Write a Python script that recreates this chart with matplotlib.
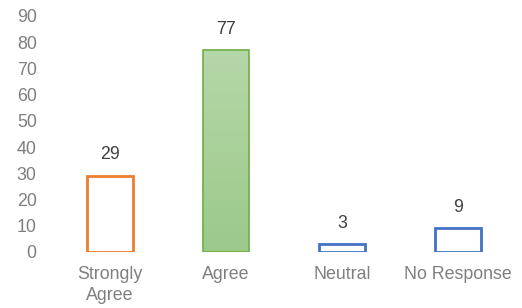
import numpy as np
import matplotlib
matplotlib.use("Agg")
import matplotlib.pyplot as plt
from matplotlib.colors import LinearSegmentedColormap

plt.rcParams['font.family'] = ['Liberation Sans', 'DejaVu Sans']

# Data
categories = ["Strongly\nAgree", "Agree", "Neutral", "No Response"]
values = [29, 77, 3, 9]
edge_colors = ["#ED7D31", "#70AD47", "#4472C4", "#4472C4"]

fig = plt.figure(figsize=(5.22, 3.08), dpi=100)
ax = fig.add_axes([52 / 522, 56 / 308, 464 / 522, 236 / 308])

x = np.arange(len(categories))
bars = ax.bar(x, values, width=0.39, facecolor="white",
              edgecolor=edge_colors, linewidth=2, zorder=2)

# gradient fill for the Agree bar
agree = bars[1]
agree.set_facecolor("none")
agree.set_linewidth(1.2)
cmap = LinearSegmentedColormap.from_list("g", ["#9BC98A", "#B6D7A8"])
grad = np.linspace(0, 1, 256).reshape(-1, 1)
bx, by = agree.get_x(), agree.get_y()
img = ax.imshow(grad, cmap=cmap, origin="lower", aspect="auto",
                extent=[bx, bx + agree.get_width(), by, by + agree.get_height()],
                zorder=1)
img.set_clip_path(agree)

for b, v in zip(bars, values):
    ax.text(b.get_x() + b.get_width() / 2, v + 4.8, str(v),
            ha="center", va="bottom", fontsize=12.8, color="#404040")

ax.set_xlim(-0.5, len(categories) - 0.5)
ax.set_ylim(0, 90)
ax.set_yticks(range(0, 91, 10))
ax.set_xticks(x)
ax.set_xticklabels(categories, fontsize=12.8, color="#7F7F7F", linespacing=1.35)
ax.tick_params(axis="y", labelsize=12.8, labelcolor="#7F7F7F", length=0, pad=11)
ax.tick_params(axis="x", length=0, pad=10)
for s in ax.spines.values():
    s.set_visible(False)

fig.savefig("out.png", dpi=100)
